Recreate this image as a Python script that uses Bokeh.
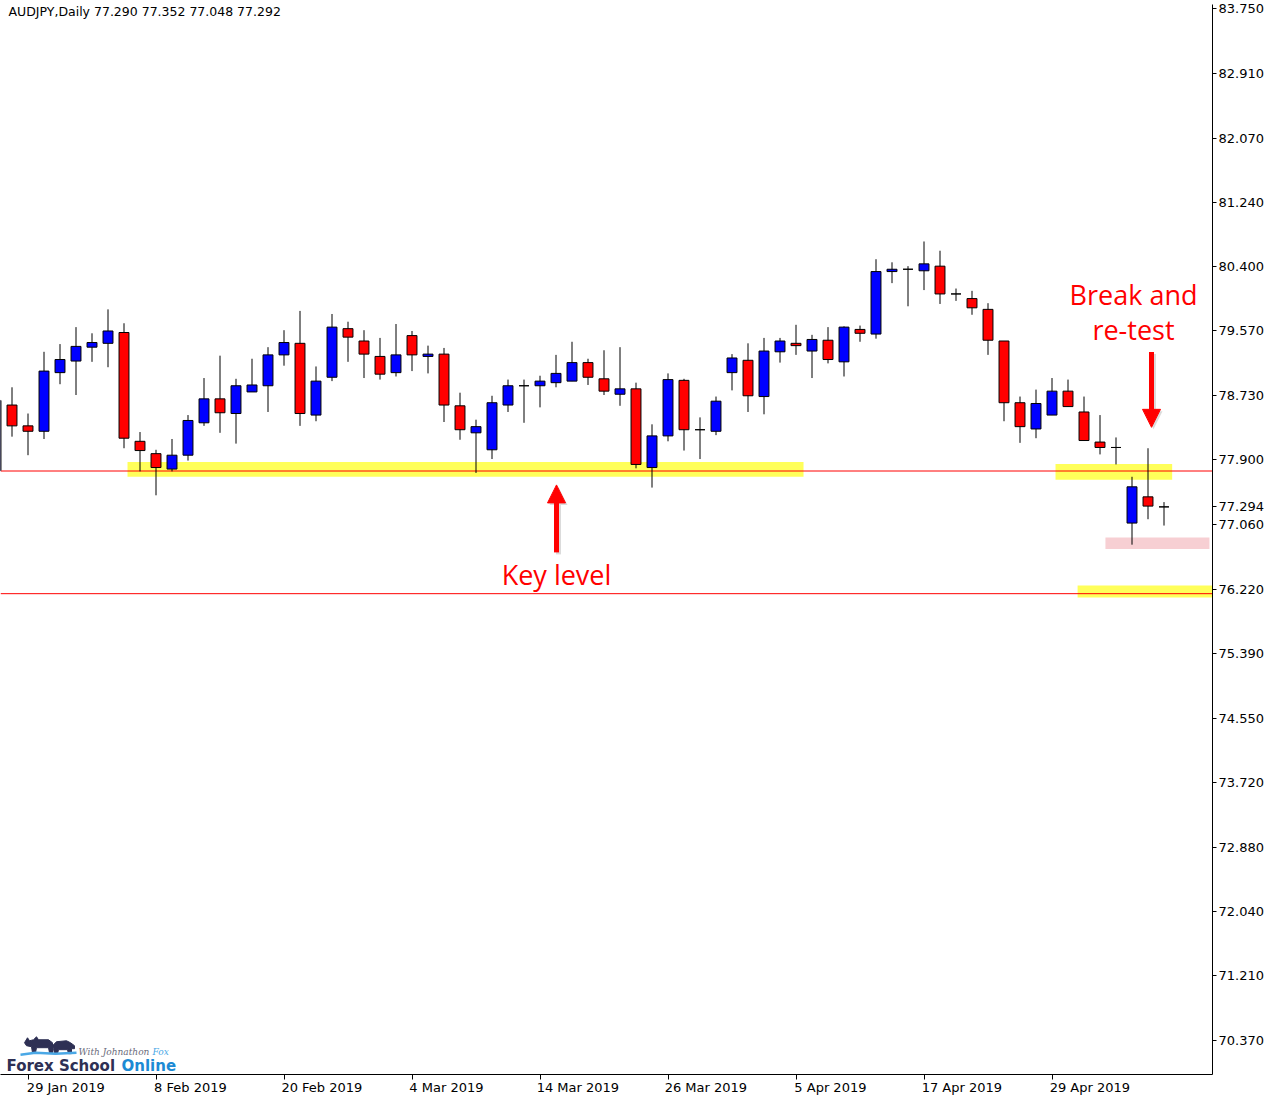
import numpy as np
from bokeh.plotting import figure
from bokeh.models import (ColumnDataSource, FixedTicker, Label,
                          Arrow, NormalHead, Range1d)
from bokeh.embed import file_html
from bokeh.resources import INLINE

# ---------------- data (AUDJPY daily candles) ----------------
bar_index = list(range(-1, 73))
opens = [77.76, 78.61, 78.34, 78.27, 79.03, 79.18, 79.36, 79.41, 79.55, 78.14,
         77.98, 77.78, 77.96, 78.38, 78.69, 78.50, 78.78, 78.86, 79.26, 79.41,
         78.48, 78.97, 79.60, 79.44, 79.24, 79.03, 79.51, 79.24, 79.27, 78.60,
         78.25, 78.03, 78.61, 78.86, 78.86, 78.90, 78.92, 79.16, 78.95, 78.75,
         78.82, 77.80, 78.21, 78.93, 78.29, 78.27, 79.03, 79.19, 78.72, 79.30,
         79.41, 79.31, 79.45, 79.17, 79.59, 79.53, 80.34, 80.37, 80.35, 80.41,
         80.05, 79.99, 79.85, 79.44, 78.64, 78.30, 78.48, 78.79, 78.52, 78.13,
         78.06, 77.08, 77.42, 77.290]
highs = [78.67, 78.84, 78.50, 79.30, 79.40, 79.62, 79.54, 79.85, 79.67, 78.26,
         78.03, 78.17, 78.48, 78.96, 79.25, 78.95, 79.21, 79.36, 79.58, 79.83,
         79.11, 79.79, 79.69, 79.58, 79.48, 79.66, 79.57, 79.38, 79.35, 78.77,
         78.42, 78.73, 78.94, 78.94, 78.99, 79.26, 79.43, 79.21, 79.32, 79.36,
         78.90, 78.36, 79.02, 78.95, 78.45, 78.72, 79.27, 79.41, 79.48, 79.48,
         79.65, 79.52, 79.62, 79.63, 79.64, 80.50, 80.46, 80.41, 80.73, 80.61,
         80.12, 80.09, 79.93, 79.44, 78.72, 78.81, 78.96, 78.94, 78.72, 78.48,
         78.19, 77.68, 78.05, 77.352]
lows = [77.75, 78.20, 77.96, 78.17, 78.88, 78.74, 79.17, 79.10, 78.05, 77.75,
        77.44, 77.75, 77.89, 78.34, 78.25, 78.11, 78.78, 78.52, 79.12, 78.34,
        78.40, 78.92, 79.17, 78.96, 78.94, 78.98, 79.05, 79.02, 78.39, 78.16,
        77.73, 77.91, 78.52, 78.38, 78.58, 78.84, 78.92, 78.87, 78.74, 78.60,
        77.79, 77.54, 78.14, 78.02, 77.91, 78.22, 78.80, 78.52, 78.49, 79.16,
        79.26, 78.96, 79.15, 78.98, 79.43, 79.47, 80.19, 79.89, 80.10, 79.92,
        79.96, 79.78, 79.26, 78.40, 78.12, 78.18, 78.48, 78.59, 78.15, 77.97,
        77.84, 76.80, 77.13, 77.048]
closes = [78.67, 78.34, 78.27, 79.05, 79.20, 79.37, 79.42, 79.57, 78.18, 78.02,
          77.80, 77.96, 78.41, 78.69, 78.51, 78.86, 78.87, 79.26, 79.42, 78.50,
          78.92, 79.62, 79.49, 79.27, 79.01, 79.26, 79.26, 79.27, 78.61, 78.29,
          78.33, 78.64, 78.86, 78.86, 78.92, 79.02, 79.16, 78.97, 78.79, 78.82,
          77.84, 78.21, 78.94, 78.29, 78.29, 78.66, 79.22, 78.73, 79.31, 79.44,
          79.38, 79.46, 79.20, 79.62, 79.54, 80.34, 80.37, 80.37, 80.44, 80.05,
          80.05, 79.87, 79.45, 78.64, 78.33, 78.63, 78.79, 78.59, 78.15, 78.06,
          78.06, 77.55, 77.30, 77.292]

price_ticks = [83.750, 82.910, 82.070, 81.240, 80.400, 79.570, 78.730, 77.900,
               77.060, 76.220, 75.390, 74.550, 73.720, 72.880, 72.040, 71.210, 70.370]
last_price = 77.294
date_tick_bars = [1, 9, 17, 25, 33, 41, 49, 57, 65]
date_labels = ["29 Jan 2019", "8 Feb 2019", "20 Feb 2019", "4 Mar 2019", "14 Mar 2019",
               "26 Mar 2019", "5 Apr 2019", "17 Apr 2019", "29 Apr 2019"]

# key levels and highlighted zones (price / bar index)
key_levels = [77.755, 76.165]
zone_left = [7.22, 65.22, 66.6]
zone_right = [49.47, 72.51, 75.2]
zone_bottom = [77.682, 77.643, 76.116]
zone_top = [77.871, 77.845, 76.270]
pink_left, pink_right, pink_bottom, pink_top = [68.34], [74.84], [76.743], [76.893]

header = "AUDJPY,Daily  77.290 77.352 77.048 77.292"

# ---------------- helpers for annotation placement ----------------
def px2x(px):
    return (px - 11.5) / 16.0

def px2y(py):
    return 83.75 - (py - 4) * 0.012865

x_lo, x_hi = px2x(0), px2x(1212)

# ---------------- figure ----------------
p = figure(width=1270, height=1097,
           x_range=Range1d(x_lo, x_hi),
           y_range=Range1d(px2y(1078), px2y(0)),
           y_axis_location="right",
           output_backend="svg", toolbar_location=None,
           min_border_left=0, min_border_top=4, min_border_right=58, min_border_bottom=0)
p.grid.visible = False
p.outline_line_color = None
p.background_fill_color = "white"
p.border_fill_color = "white"

# right price axis (with the current-price mark)
all_ticks = price_ticks + [last_price]
yax = p.yaxis[0]
yax.ticker = FixedTicker(ticks=all_ticks)
yax.major_label_overrides = {t: f"{t:.3f}" for t in all_ticks}
yax.major_tick_out = 4
yax.major_tick_in = 0
yax.minor_tick_line_color = None
yax.major_label_standoff = 2
yax.major_label_text_font = "DejaVu Sans"
yax.major_label_text_font_size = "13px"
yax.major_label_text_color = "black"
yax.axis_line_color = "black"
yax.major_tick_line_color = "black"

# bottom date axis: labels start at the tick (MT4 style)
label_centers = [round(b + 0.215 * len(t), 3) for b, t in zip(date_tick_bars, date_labels)]
xax = p.xaxis[0]
xax.ticker = FixedTicker(ticks=label_centers, minor_ticks=date_tick_bars)
xax.major_label_overrides = {c: t for c, t in zip(label_centers, date_labels)}
xax.major_tick_out = 0
xax.major_tick_in = 0
xax.major_tick_line_color = None
xax.minor_tick_out = 5
xax.minor_tick_in = 0
xax.minor_tick_line_color = "black"
xax.major_label_standoff = 0
xax.major_label_text_font = "DejaVu Sans"
xax.major_label_text_font_size = "13px"
xax.major_label_text_color = "black"
xax.axis_line_color = "black"

# zones
p.quad(left=zone_left, right=zone_right, bottom=zone_bottom, top=zone_top,
       fill_color="#ffff5a", line_color=None)
p.quad(left=pink_left, right=pink_right, bottom=pink_bottom, top=pink_top,
       fill_color="#f7cfd3", line_color=None)

# key level lines (full width)
p.segment(x0=[x_lo] * len(key_levels), x1=[x_hi] * len(key_levels),
          y0=key_levels, y1=key_levels, line_color="#ff0000", line_width=1)

# candles
o = np.array(opens); c = np.array(closes)
is_doji = np.abs(c - o) < 0.005
colors = np.where(is_doji, "black", np.where(c > o, "#0000ff", "#ff0000"))
top = np.where(is_doji, o, np.maximum(o, c))
bottom = np.where(is_doji, o, np.minimum(o, c))
src = ColumnDataSource(dict(x=bar_index, high=highs, low=lows, top=top, bottom=bottom,
                            color=colors))
p.segment(x0="x", x1="x", y0="low", y1="high", source=src, line_color="black", line_width=1)
p.vbar(x="x", width=0.62, top="top", bottom="bottom", source=src,
       fill_color="color", line_color="black", line_width=1)

# header text
p.add_layout(Label(x=px2x(8), y=px2y(7), text=header, text_font="DejaVu Sans",
                   text_font_size="12.5px", text_color="black", text_baseline="middle",
                   text_align="left"))

# annotations
red = "#ff0000"
p.add_layout(Label(x=px2x(556), y=px2y(574), text="Key level", text_font="Open Sans",
                   text_font_size="27px", text_color=red, text_align="center",
                   text_baseline="middle"))
p.add_layout(Label(x=px2x(1133), y=px2y(292), text="Break and", text_font="Open Sans",
                   text_font_size="27px", text_color=red, text_align="center",
                   text_baseline="middle"))
p.add_layout(Label(x=px2x(1133), y=px2y(327), text="re-test", text_font="Open Sans",
                   text_font_size="27px", text_color=red, text_align="center",
                   text_baseline="middle"))

for (xs, ys, xe, ye) in [(556, 552, 556, 484), (1151, 350, 1151, 426)]:
    # soft shadow
    p.add_layout(Arrow(end=NormalHead(size=18, fill_color="#999999", fill_alpha=0.35,
                                      line_color=None),
                       x_start=px2x(xs + 2), y_start=px2y(ys + 2),
                       x_end=px2x(xe + 2), y_end=px2y(ye + 2),
                       line_color="#999999", line_alpha=0.35, line_width=5))
    p.add_layout(Arrow(end=NormalHead(size=18, fill_color=red, line_color=red, line_width=1),
                       x_start=px2x(xs), y_start=px2y(ys), x_end=px2x(xe), y_end=px2y(ye),
                       line_color=red, line_width=5))

# logo (Forex School Online)
bull_x = [24, 27, 29, 33, 36, 38, 48, 52, 52, 49, 48, 36, 35, 32, 31, 26]
bull_y = [1046, 1041, 1044, 1043, 1040, 1043, 1043, 1046, 1056, 1056, 1051, 1051, 1056, 1056, 1050, 1049]
bear_x = [52, 56, 66, 70, 74, 74, 71, 71, 68, 67, 58, 57, 54, 53]
bear_y = [1049, 1045, 1044, 1046, 1049, 1052, 1052, 1057, 1057, 1053, 1053, 1057, 1057, 1052]
p.patches(xs=[[px2x(v) for v in bull_x], [px2x(v) for v in bear_x]],
          ys=[[px2y(v) for v in bull_y], [px2y(v) for v in bear_y]],
          fill_color="#2e3054", line_color="#2e3054")
p.line(x=[px2x(v) for v in [20, 35, 55, 76]], y=[px2y(v) for v in [1058, 1056, 1057, 1056]],
       line_color="#4aa8e6", line_width=2.5)
p.add_layout(Label(x=px2x(78), y=px2y(1055), text="With Johnathon", text_font="DejaVu Serif",
                   text_font_style="italic", text_font_size="9px", text_color="#6a6a7a",
                   text_baseline="middle"))
p.add_layout(Label(x=px2x(152), y=px2y(1055), text="Fox", text_font="DejaVu Serif",
                   text_font_style="italic", text_font_size="9px", text_color="#4aa8e6",
                   text_baseline="middle"))
p.add_layout(Label(x=px2x(6), y=px2y(1069), text="Forex School", text_font="DejaVu Sans",
                   text_font_style="bold", text_font_size="15px", text_color="#2e3054",
                   text_baseline="middle"))
p.add_layout(Label(x=px2x(121), y=px2y(1069), text="Online", text_font="DejaVu Sans",
                   text_font_style="bold", text_font_size="15px", text_color="#1c8ad4",
                   text_baseline="middle"))

open("out.html", "w").write(file_html(p, INLINE))
